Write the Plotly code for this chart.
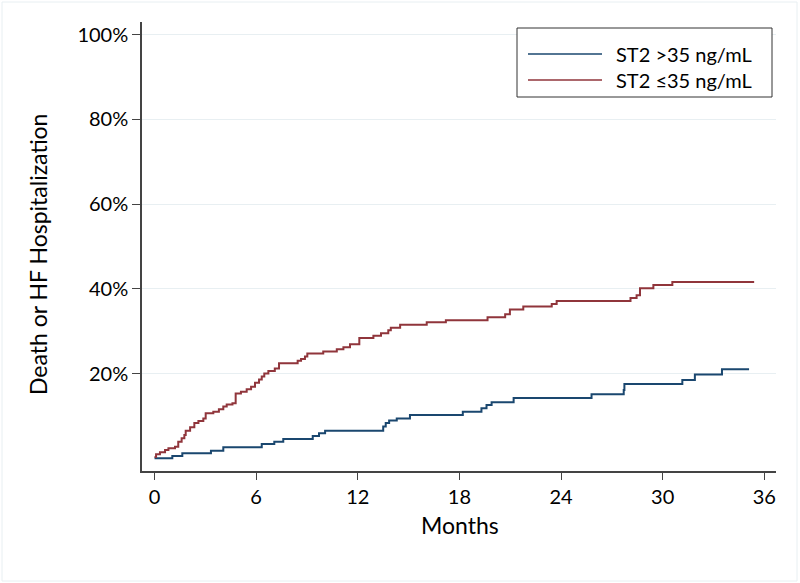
import plotly.graph_objects as go

# ---- data ----
series_names = ["ST2 >35 ng/mL", "ST2 \u226435 ng/mL"]

blue_months = [0, 1.05, 1.64, 3.33, 4.06, 6.33, 7.07, 7.6, 9.34, 9.71, 10.07, 13.5, 13.65,
               13.85, 14.3, 15.08, 18.2, 19.3, 19.6, 19.9, 21.2, 25.8, 27.7, 27.74, 31.16,
               31.9, 33.5, 35.1]
blue_pct = [0, 0.55, 1.17, 1.8, 2.6, 3.4, 3.9, 4.55, 5.26, 5.9, 6.5, 7.5, 8.3,
            8.9, 9.4, 10.2, 11.0, 11.8, 12.6, 13.2, 14.2, 15.1, 16.1, 17.5, 18.5,
            19.8, 21.0, 21.0]

red_months = [0, 0.09, 0.32, 0.62, 0.82, 1.21, 1.4, 1.6, 1.76, 1.84, 2.1, 2.35, 2.59, 2.88,
              3.02, 3.47, 3.8, 4.06, 4.26, 4.6, 4.79, 5.1, 5.44, 5.7, 5.93, 6.17, 6.33, 6.48,
              6.72, 7.1, 7.35, 8.45, 8.65, 8.88, 9.02, 9.96, 10.76, 11.15, 11.54, 12.09,
              12.92, 13.37, 13.8, 13.95, 14.5, 16.07, 17.2, 19.66, 20.7, 20.98, 21.77,
              23.45, 23.74, 28.1, 28.46, 28.66, 29.45, 30.57, 35.4]
red_pct = [0.3, 0.94, 1.4, 1.96, 2.36, 2.74, 3.9, 4.7, 5.5, 6.5, 7.3, 8.3, 8.8, 9.4,
           10.6, 11.0, 11.6, 12.2, 12.7, 13.0, 15.3, 15.7, 16.3, 16.9, 17.8, 18.6, 19.3, 20.0,
           20.6, 21.2, 22.4, 23.0, 23.4, 24.0, 24.7, 25.2, 25.7, 26.2, 26.9, 28.4,
           28.9, 29.5, 30.2, 30.8, 31.5, 32.1, 32.6, 33.3, 34.0, 35.1, 35.8,
           36.4, 37.1, 37.8, 38.5, 40.1, 40.9, 41.6, 41.6]

x_ticks = [0, 6, 12, 18, 24, 30, 36]
y_ticks = [20, 40, 60, 80, 100]
y_tick_labels = ["20%", "40%", "60%", "80%", "100%"]

colors = ["#1a476f", "#90353b"]
FONT = "Lato"

# ---- layout geometry (pixels) ----
W, H = 800, 583
L, R, T, B = 142, 776, 22, 471


def px(x):
    return (x - L) / (R - L)


def py(y):
    return (B - y) / (B - T)


fig = go.Figure()
for mx, pc, name, col in [(blue_months, blue_pct, series_names[0], colors[0]),
                          (red_months, red_pct, series_names[1], colors[1])]:
    fig.add_trace(go.Scatter(x=mx, y=pc, mode="lines", line_shape="hv", name=name,
                             line=dict(color=col, width=2), showlegend=False))

axis_col = "#444444"
fig.update_layout(
    width=W, height=H,
    margin=dict(l=L, r=W - R, t=T, b=H - B, pad=0),
    paper_bgcolor="white", plot_bgcolor="white",
    font=dict(family=FONT, color="black"),
    xaxis=dict(range=[-0.74, 36.69], tickvals=x_ticks, ticks="outside", ticklen=7,
               tickcolor=axis_col, tickwidth=1.2, showline=True, linecolor=axis_col,
               linewidth=1.5, showgrid=False, zeroline=False,
               tickfont=dict(size=20, family=FONT, color="black")),
    yaxis=dict(range=[-3.0, 102.95], tickvals=y_ticks, ticktext=y_tick_labels,
               ticks="outside", ticklen=8, tickcolor=axis_col, tickwidth=1.2,
               showline=True, linecolor=axis_col, linewidth=1.5,
               showgrid=True, gridcolor="#e8eff2", gridwidth=1, zeroline=False,
               tickfont=dict(size=20, family=FONT, color="black")),
)

shapes = [
    # outer graph-region frame
    dict(type="rect", xref="paper", yref="paper", x0=px(2), x1=px(797), y0=py(581), y1=py(2),
         line=dict(color="#e8eff2", width=1), layer="below"),
    # legend box
    dict(type="rect", xref="paper", yref="paper", x0=px(517), x1=px(772), y0=py(97), y1=py(28),
         line=dict(color="#333333", width=1), fillcolor="white", layer="above"),
]
annotations = [
    dict(text="Months", xref="paper", yref="paper", x=px(460), y=py(525), showarrow=False,
         font=dict(size=23, family=FONT, color="black"), xanchor="center", yanchor="middle"),
    dict(text="Death or HF Hospitalization", xref="paper", yref="paper", x=px(38), y=py(255),
         textangle=-90, showarrow=False, font=dict(size=23, family=FONT, color="black"),
         xanchor="center", yanchor="middle"),
]
for i, (name, col) in enumerate(zip(series_names, colors)):
    yy = [54, 80][i]
    shapes.append(dict(type="line", xref="paper", yref="paper", x0=px(528), x1=px(602),
                       y0=py(yy), y1=py(yy), line=dict(color=col, width=1.5), layer="above"))
    annotations.append(dict(text=name, xref="paper", yref="paper", x=px(614), y=py(yy),
                            xanchor="left", yanchor="middle", showarrow=False,
                            font=dict(size=20, family=FONT, color="black")))

fig.update_layout(shapes=shapes, annotations=annotations)
fig.write_html("out.html", config={"displayModeBar": False},
               post_script="document.body.style.margin='0';document.body.style.padding='0';")
